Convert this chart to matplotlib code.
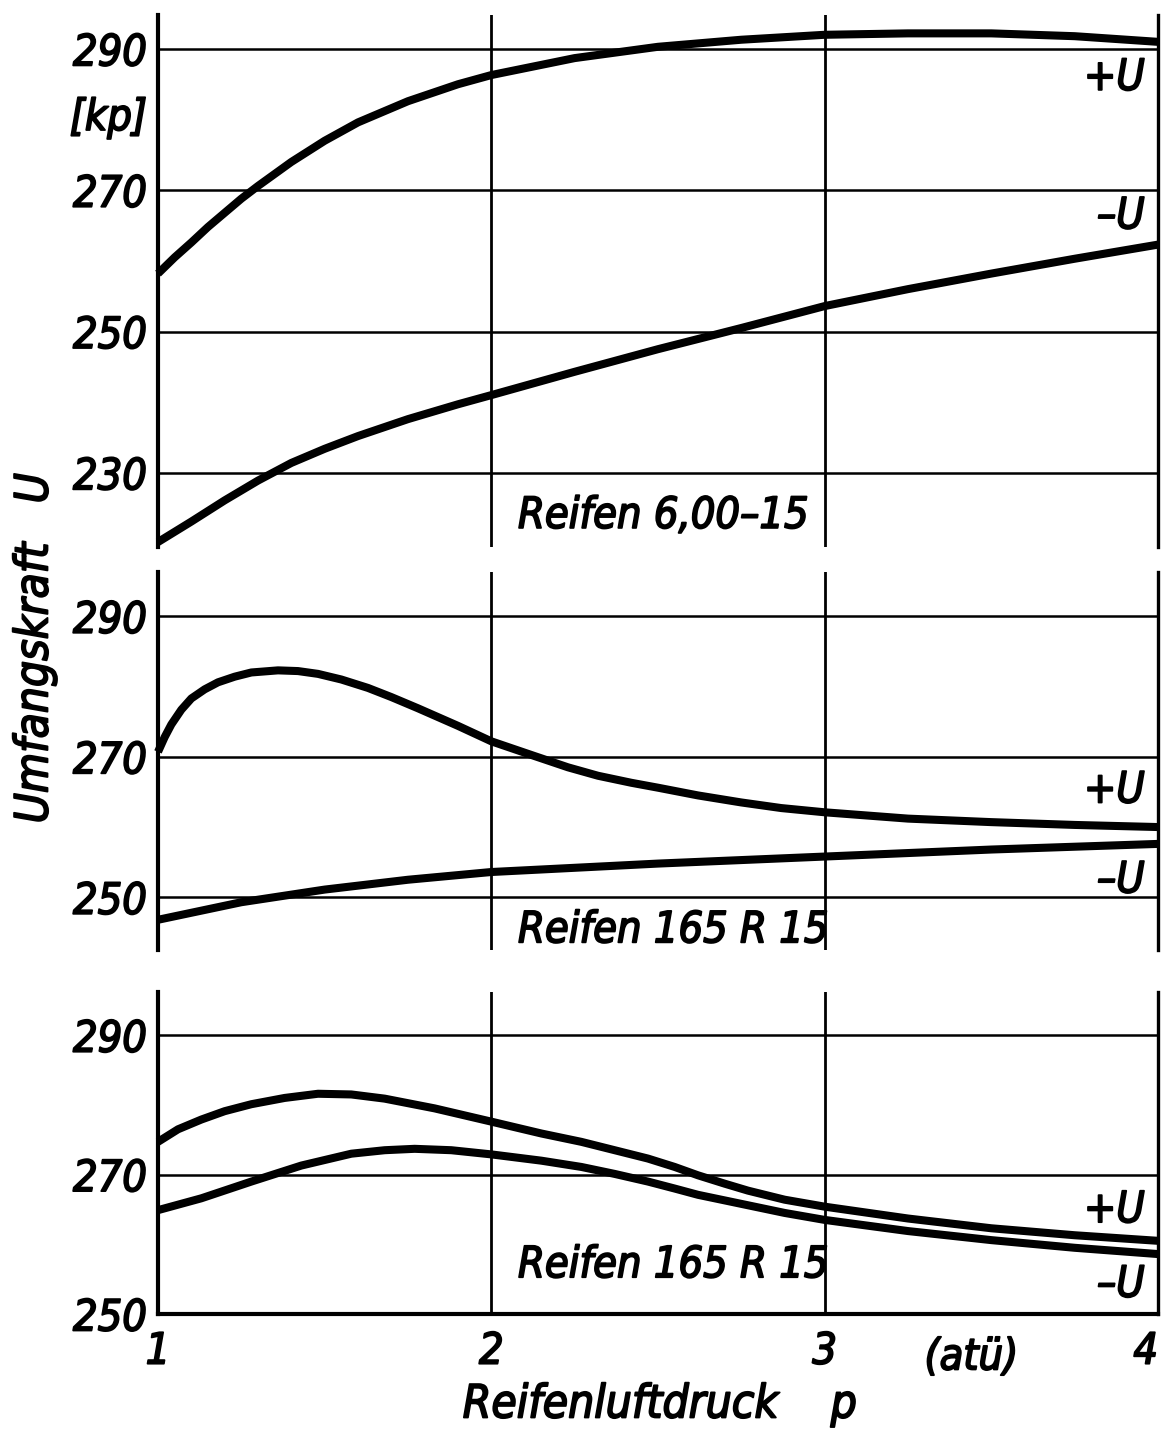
import numpy as np
import matplotlib
matplotlib.use("Agg")
import matplotlib.pyplot as plt
import matplotlib.patheffects as pe

# --- data (p in atü, U in kp) ---
p1_plus = [1.0, 1.05, 1.1, 1.15, 1.2, 1.25, 1.3, 1.4, 1.5, 1.6, 1.75, 1.9, 2.0, 2.25, 2.5, 2.75, 3.0, 3.25, 3.5, 3.75, 4.0]
u1_plus = [258.2, 260.5, 262.6, 264.8, 266.8, 268.8, 270.6, 274.0, 277.0, 279.6, 282.6, 285.0, 286.3, 288.7, 290.3, 291.3, 292.0, 292.2, 292.2, 291.8, 291.0]
p1_minus = [1.0, 1.1, 1.2, 1.3, 1.4, 1.5, 1.6, 1.75, 1.9, 2.0, 2.25, 2.5, 2.75, 3.0, 3.25, 3.5, 3.75, 4.0]
u1_minus = [220.2, 223.1, 226.1, 228.9, 231.4, 233.4, 235.2, 237.6, 239.7, 241.0, 244.3, 247.5, 250.5, 253.6, 256.0, 258.2, 260.3, 262.3]

p2_plus = [1.0, 1.02, 1.04, 1.07, 1.1, 1.14, 1.18, 1.23, 1.28, 1.36, 1.42, 1.48, 1.55, 1.63, 1.7, 1.78,
           1.9, 2.0, 2.13, 2.23, 2.32, 2.42, 2.5, 2.62, 2.75, 2.87, 3.0, 3.25, 3.5, 3.75, 4.0]
u2_plus = [270.7, 272.8, 274.6, 276.7, 278.3, 279.6, 280.6, 281.4, 282.0, 282.3, 282.2, 281.8, 281.0, 279.8, 278.5, 276.9,
           274.4, 272.2, 270.1, 268.5, 267.3, 266.3, 265.6, 264.5, 263.5, 262.7, 262.1, 261.2, 260.7, 260.3, 260.0]
p2_minus = [1.0, 1.1, 1.25, 1.5, 1.75, 2.0, 2.5, 3.0, 3.5, 4.0]
u2_minus = [246.8, 247.8, 249.3, 251.1, 252.5, 253.6, 254.8, 255.8, 256.8, 257.6]

p3_plus = [1.0, 1.06, 1.13, 1.2, 1.28, 1.38, 1.48, 1.58, 1.68, 1.83, 2.0, 2.15, 2.27, 2.37, 2.47, 2.55, 2.62, 2.7, 2.77,
           2.88, 3.0, 3.25, 3.5, 3.75, 4.0]
u3_plus = [274.7, 276.5, 277.9, 279.1, 280.1, 281.0, 281.6, 281.5, 280.9, 279.5, 277.6, 275.9, 274.7, 273.5, 272.3, 271.1,
           269.9, 268.7, 267.7, 266.4, 265.4, 263.7, 262.3, 261.3, 260.5]
p3_minus = [1.0, 1.13, 1.28, 1.43, 1.58, 1.68, 1.77, 1.88, 2.0, 2.15, 2.27, 2.37, 2.47, 2.55, 2.62, 2.7, 2.77, 2.88,
            3.0, 3.25, 3.5, 3.75, 4.0]
u3_minus = [264.9, 266.6, 269.0, 271.3, 273.0, 273.5, 273.7, 273.5, 272.9, 272.0, 271.1, 270.1, 269.0, 268.0, 267.1, 266.3,
            265.6, 264.5, 263.5, 261.9, 260.6, 259.5, 258.6]

panel_titles = ["Reifen 6,00\u201315", "Reifen 165 R 15", "Reifen 165 R 15"]
panel_yticks = [[230, 250, 270, 290], [250, 270, 290], [250, 270, 290]]
panel_ylims = [(219.5, 294.8), (242.5, 296.3), (250, 296.2)]
x_ticks = [1, 2, 3, 4]

W, H = 1168, 1441
plt.rcParams["font.family"] = ["DejaVu Sans Condensed", "DejaVu Sans"]
# hand lettering is a bit heavier than the regular face: thicken with a thin stroke
TXT = dict(style="oblique", stretch="condensed",
           path_effects=[pe.withStroke(linewidth=1.3, foreground="black")])
FS = 31

fig = plt.figure(figsize=(W / 100, H / 100), dpi=100)


def px_axes(top, bottom, left=158, right=1158):
    return fig.add_axes([left / W, 1 - bottom / H, (right - left) / W, (bottom - top) / H])


axes = [px_axes(15, 547), px_axes(572, 950), px_axes(992, 1314)]
curves = [
    ((p1_plus, u1_plus), (p1_minus, u1_minus)),
    ((p2_plus, u2_plus), (p2_minus, u2_minus)),
    ((p3_plus, u3_plus), (p3_minus, u3_minus)),
]
# label positions (data coords) for +U / -U / tyre name
label_y = [(285.9, 266.3, 223.9), (265.2, 252.4, 245.3), (264.9, 254.2, 257.0)]

for i, ax in enumerate(axes):
    lo, hi = panel_ylims[i]
    ax.set_xlim(1, 4)
    ax.set_ylim(lo, hi)
    for s in ["top", "bottom"]:
        ax.spines[s].set_visible(False)
    ax.spines["left"].set_linewidth(3.0)
    ax.spines["right"].set_linewidth(2.4)
    if i == 2:
        ax.spines["bottom"].set_visible(True)
        ax.spines["bottom"].set_linewidth(3.0)

    for yt in panel_yticks[i]:
        if yt > lo:
            ax.axhline(yt, color="black", lw=1.8, zorder=1)
    for xt in [2, 3]:
        ax.axvline(xt, color="black", lw=2.0, zorder=1)

    for pp, uu in curves[i]:
        ax.plot(pp, uu, color="black", lw=5.8, solid_capstyle="butt",
                solid_joinstyle="round", zorder=3, clip_on=False)

    ax.set_yticks(panel_yticks[i])
    ax.set_yticklabels([str(t) for t in panel_yticks[i]], fontsize=FS, **TXT)
    ax.tick_params(axis="y", length=0, pad=8)
    if i == 2:
        ax.set_xticks(x_ticks)
        labs = ax.set_xticklabels([str(t) for t in x_ticks], fontsize=FS, **TXT)
        labs[-1].set_ha("right")
        ax.tick_params(axis="x", length=0, pad=12)
    else:
        ax.set_xticks([])

    ya, yb, yc = label_y[i]
    ax.text(3.96, ya, "+U", ha="right", va="center", fontsize=FS, **TXT)
    ax.text(3.96, yb, "\u2013U", ha="right", va="center", fontsize=FS, **TXT)
    ax.text(2.08, yc, panel_titles[i], ha="left", va="center", fontsize=FS, **TXT)

# unit label under top tick
fig.text(147 / W, 1 - 118 / H, "[kp]", ha="right", va="center", fontsize=FS, **TXT)
# y axis label
fig.text(35 / W, 1 - 648 / H, "Umfangskraft   U", rotation=90, ha="center", va="center",
         fontsize=33, **TXT)
# x axis unit and label
axes[2].text(3.44, -0.135, "(at\u00fc)", transform=axes[2].get_xaxis_transform(),
             ha="center", va="center", fontsize=FS, **TXT)
fig.text(660 / W, 1 - 1405 / H, "Reifenluftdruck    p", ha="center", va="center",
         fontsize=33, **TXT)

fig.savefig("out.png", dpi=100, facecolor="white")
